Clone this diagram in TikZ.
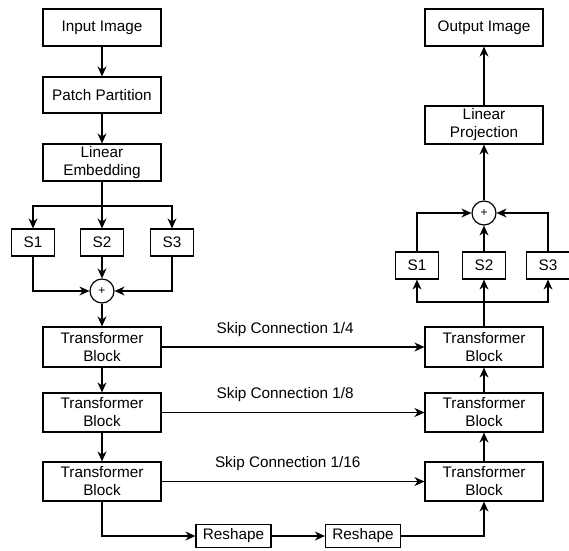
\documentclass[tikz,border=0pt]{standalone}
\usepackage{fontspec}
\setmainfont{Liberation Sans}
\usetikzlibrary{arrows.meta,calc,positioning}

\begin{document}
\begin{tikzpicture}[x=1pt,y=-1pt,line width=1.2pt,
  every node/.style={draw,align=center,inner sep=0pt,font=\fontsize{15.3}{18}\selectfont},
  block/.style={minimum width=118pt,minimum height=39pt},
  sbox/.style={minimum width=43pt,minimum height=27pt},
  reshp/.style={minimum width=75pt,minimum height=23pt},
  sumnode/.style={circle,minimum size=24pt,font=\fontsize{12}{14}\selectfont},
  skiplbl/.style={draw=none,above=10pt},
  flow/.style={-{Stealth[length=10pt,width=9pt]}}]
\useasboundingbox (0,0) rectangle (569,550);
% encoder side
\node [block,minimum height=37pt] (InImg) at (102,27.5) {Input Image};
\node [block,minimum height=36pt] (Patch) at (102,95) {Patch Partition};
\node [block,minimum height=37pt] (Embed) at (102,162.5) {Linear\\Embedding};
\node [sbox] (LS1) at (33,242.5) {S1};
\node [sbox] (LS2) at (102,242.5) {S2};
\node [sbox] (LS3) at (172,242.5) {S3};
\node [sumnode] (LSum) at (102,291) {+};
\node [block,minimum height=40pt] (LT1) at (102,347) {Transformer\\Block};
\node [block] (LT2) at (102,412.5) {Transformer\\Block};
\node [block] (LT3) at (102,481.5) {Transformer\\Block};
\node [reshp] (Rs1) at (233.5,536) {Reshape};
\node [reshp] (Rs2) at (363,536) {Reshape};
% decoder side
\node [block,minimum height=37pt] (OutImg) at (484,27.5) {Output Image};
\node [block,minimum height=38pt] (Proj) at (484,125) {Linear\\Projection};
\node [sumnode] (RSum) at (484,213) {+};
\node [sbox] (RS1) at (417,265.5) {S1};
\node [sbox] (RS2) at (484,265.5) {S2};
\node [sbox] (RS3) at (548,265.5) {S3};
\node [block,minimum height=40pt] (RT1) at (484,347) {Transformer\\Block};
\node [block] (RT2) at (484,412.5) {Transformer\\Block};
\node [block] (RT3) at (484,481.5) {Transformer\\Block};
\coordinate (LFork) at (102,206);
\coordinate (RFork) at (484,302);
% connectors
\draw [flow] (InImg) -- (Patch);
\draw [flow] (Patch) -- (Embed);
\draw [flow] (Embed) -- (LS2);
\draw [flow] (LFork) -| (LS1);
\draw [flow] (LFork) -| (LS3);
\draw [flow] (LS1) |- (LSum);
\draw [flow] (LS2) -- (LSum);
\draw [flow] (LS3) |- (LSum);
\draw [flow] (LSum) -- (LT1);
\draw [flow] (LT1) -- (LT2);
\draw [flow] (LT2) -- (LT3);
\draw [flow] (LT1) -- node [skiplbl,pos=0.47] {Skip Connection 1/4} (RT1);
\draw [flow] (LT2) -- node [skiplbl,pos=0.47] {Skip Connection 1/8} (RT2);
\draw [flow] (LT3) -- node [skiplbl,pos=0.48] {Skip Connection 1/16} (RT3);
\draw [flow] (LT3) |- (Rs1);
\draw [flow] (Rs1) -- (Rs2);
\draw [flow] (Rs2) -| (RT3);
\draw [flow] (RT3) -- (RT2);
\draw [flow] (RT2) -- (RT1);
\draw [flow] (RT1) -- (RS2);
\draw [flow] (RFork) -| (RS1);
\draw [flow] (RFork) -| (RS3);
\draw [flow] (RS1) |- (RSum);
\draw [flow] (RS2) -- (RSum);
\draw [flow] (RS3) |- (RSum);
\draw [flow] (RSum) -- (Proj);
\draw [flow] (Proj) -- (OutImg);
\end{tikzpicture}
\end{document}
